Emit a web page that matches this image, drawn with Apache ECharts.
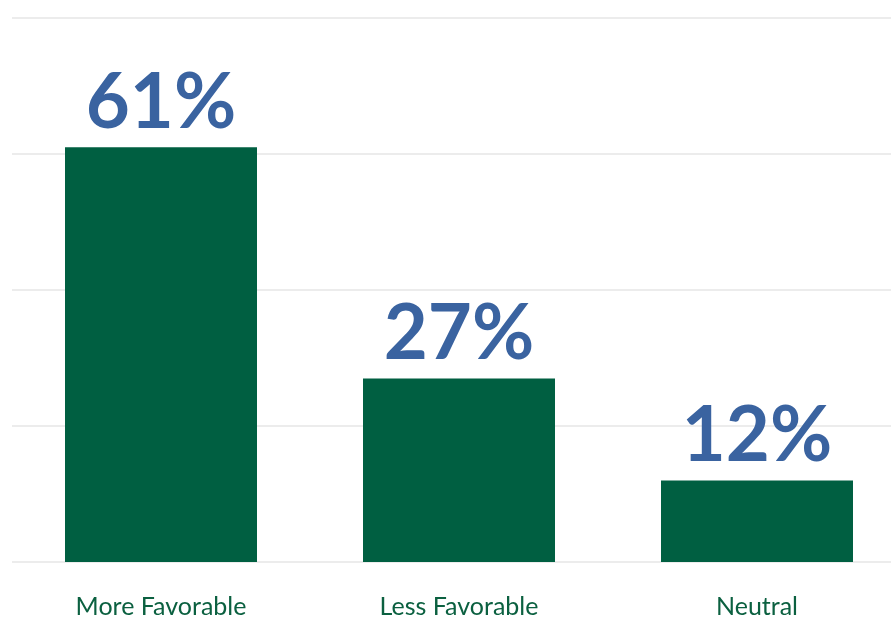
<!DOCTYPE html>
<html>
<head>
<meta charset="utf-8">
<script src="https://cdn.jsdelivr.net/npm/echarts@6/dist/echarts.min.js"></script>
<style>
html,body{margin:0;padding:0;background:#fff;}
#chart{width:891px;height:617px;}
</style>
</head>
<body>
<div id="chart"></div>
<script>
const categories = ['More Favorable', 'Less Favorable', 'Neutral'];
const values = [61, 27, 12];
const yTicks = [0, 20, 40, 60, 80];

const chart = echarts.init(document.getElementById('chart'), null, {renderer: 'canvas'});
chart.setOption({
  animation: false,
  grid: {left: 12, top: 18, width: 894, height: 544, containLabel: false, outerBoundsMode: 'none'},
  xAxis: {
    type: 'category',
    data: categories,
    axisLine: {show: false},
    axisTick: {show: false},
    axisLabel: {
      color: '#0b6040',
      fontFamily: 'Lato',
      fontSize: 25,
      margin: 32
    }
  },
  yAxis: {
    type: 'value',
    min: yTicks[0],
    max: yTicks[yTicks.length - 1],
    interval: 20,
    axisLabel: {show: false},
    axisLine: {show: false},
    axisTick: {show: false},
    splitLine: {lineStyle: {color: '#ececec', width: 2}}
  },
  series: [{
    type: 'bar',
    data: values,
    barWidth: 192,
    itemStyle: {color: '#005f41'},
    label: {
      show: true,
      position: 'top',
      distance: 6,
      formatter: '{c}%',
      color: '#3a63a0',
      fontFamily: 'Lato',
      fontWeight: 'bold',
      fontSize: 76
    }
  }]
});
</script>
</body>
</html>
